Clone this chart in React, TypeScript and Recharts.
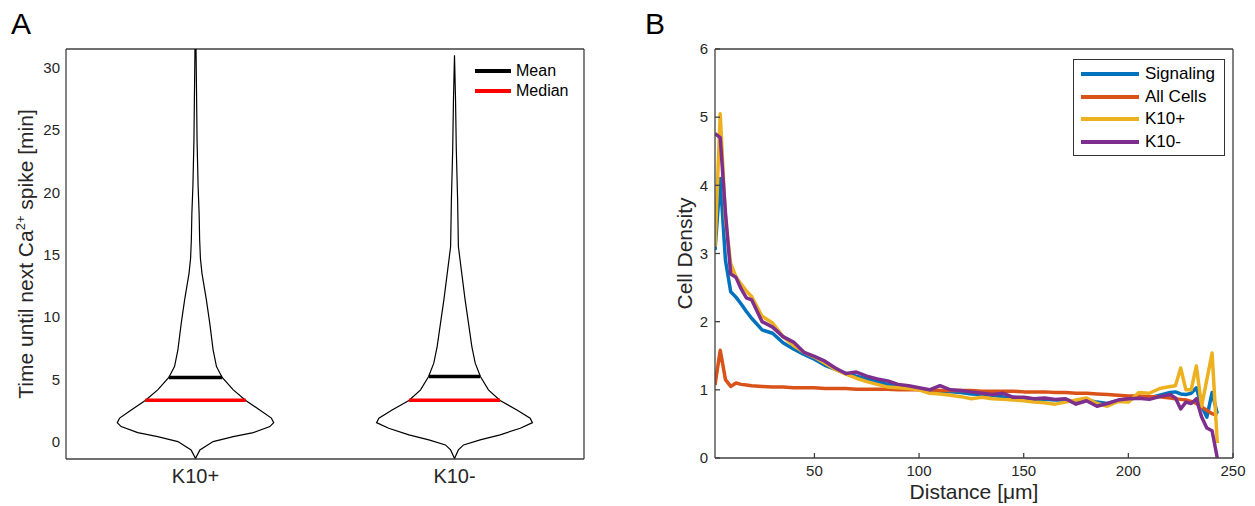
import React from 'react';
import { ScatterChart, Scatter, XAxis, YAxis, LineChart, Line, Legend, Label } from 'recharts';

const FONT = '"Liberation Sans", Arial, Helvetica, sans-serif';
const AXIS = '#404040';
const TXT = '#262626';

// ---------- Panel A: violin data ----------
const groups = ['K10+', 'K10-'];
const groupPositions = [1, 2];
const timeTicks = [0, 5, 10, 15, 20, 25, 30];

const k10PosTimes = [-1.35, -0.67, 0.0, 0.4, 0.72, 1.2, 1.52, 1.88, 2.54, 3.29, 4.15, 5.14, 6.02, 7.36, 9.5, 11.37, 13.5, 14.7, 16.2, 18.3, 20.5, 24.2, 28.0, 31.5];
const k10PosHalfWidth = [0, 0.017, 0.068, 0.146, 0.223, 0.287, 0.302, 0.293, 0.248, 0.194, 0.146, 0.103, 0.081, 0.068, 0.055, 0.042, 0.025, 0.019, 0.016, 0.014, 0.01, 0.006, 0.004, 0.002];

const k10NegTimes = [-1.35, -0.67, -0.27, 0.13, 0.54, 1.07, 1.52, 1.88, 2.54, 3.29, 4.15, 5.22, 6.29, 7.62, 9.5, 11.37, 13.5, 15.65, 19.4, 23.4, 27.4, 31.0];
const k10NegHalfWidth = [0, 0.015, 0.035, 0.099, 0.176, 0.254, 0.301, 0.292, 0.241, 0.176, 0.131, 0.1, 0.08, 0.067, 0.054, 0.041, 0.028, 0.015, 0.012, 0.007, 0.004, 0];

const meanValues = [5.14, 5.22];
const medianValues = [3.32, 3.32];
const meanHalfWidth = [0.103, 0.099];
const medianHalfWidth = [0.194, 0.176];

const legendALabels = ['Mean', 'Median'];
const legendAColors = ['#000000', '#ff0000'];

// ---------- Panel B: cell density ----------
const distance = [2.5, 5, 7.5, 10, 12.5, 15, 17.5, 20,
  25, 30, 35, 40, 45, 50, 55, 60, 65, 70, 75, 80, 85, 90, 95, 100, 105, 110, 115, 120,
  125, 130, 135, 140, 145, 150, 155, 160, 165, 170, 175, 180, 185, 190, 195, 200, 205, 210, 215, 220,
  222.5, 225, 227.5, 230, 232.5, 235, 237.5, 240, 242.5];
const signaling = [3.05, 4.1, 2.9, 2.44, 2.36, 2.26, 2.15, 2.05,
  1.88, 1.83, 1.69, 1.6, 1.52, 1.45, 1.36, 1.3, 1.24, 1.2,
  1.16, 1.12, 1.08, 1.06, 1.04, 1.01, 0.99, 0.98, 0.97, 0.96,
  0.94, 0.93, 0.92, 0.9, 0.89, 0.88, 0.86, 0.86, 0.85, 0.85,
  0.83, 0.85, 0.82, 0.8, 0.84, 0.87, 0.88, 0.88, 0.92, 0.96,
  0.97, 0.94, 0.93, 0.95, 1.03, 0.76, 0.6, 0.96, 0.65];
const allCells = [1.07, 1.58, 1.15, 1.05, 1.1, 1.08, 1.07, 1.06,
  1.05, 1.04, 1.04, 1.03, 1.03, 1.03, 1.02, 1.02, 1.02, 1.01,
  1.01, 1.01, 1.01, 1.0, 1.0, 1.0, 1.0, 0.99, 0.99, 0.99,
  0.99, 0.98, 0.98, 0.98, 0.98, 0.97, 0.97, 0.97, 0.96, 0.96,
  0.95, 0.95, 0.94, 0.93, 0.92, 0.91, 0.91, 0.9, 0.9, 0.88,
  0.87, 0.86, 0.85, 0.83, 0.8, 0.75, 0.7, 0.65, 0.62];
const k10Pos = [3.1, 5.05, 3.5, 2.85, 2.66, 2.55, 2.45, 2.37,
  2.08, 1.98, 1.78, 1.65, 1.55, 1.48, 1.39, 1.3, 1.23, 1.17,
  1.12, 1.08, 1.04, 1.03, 1.02, 1.0, 0.95, 0.94, 0.92, 0.9,
  0.87, 0.89, 0.87, 0.86, 0.85, 0.84, 0.82, 0.81, 0.79, 0.82,
  0.85, 0.88, 0.8, 0.76, 0.83, 0.82, 0.96, 0.95, 1.02, 1.05,
  1.06, 1.32, 1.0, 1.0, 1.35, 0.76, 1.15, 1.54, 0.22];
const k10Neg = [4.76, 4.7, 3.6, 2.7, 2.65, 2.48, 2.35, 2.32,
  2.0, 1.92, 1.78, 1.7, 1.55, 1.49, 1.42, 1.32, 1.24, 1.26,
  1.2, 1.16, 1.13, 1.08, 1.06, 1.03, 1.0, 1.06, 1.0, 0.99,
  0.97, 0.95, 0.93, 0.95, 0.89, 0.89, 0.87, 0.88, 0.86, 0.87,
  0.79, 0.84, 0.76, 0.8, 0.85, 0.87, 0.875, 0.86, 0.9, 0.93,
  0.88, 0.72, 0.82, 0.8, 0.87, 0.6, 0.44, 0.4, 0.0];

const seriesKeys = ['signaling', 'allCells', 'k10Pos', 'k10Neg'];
const seriesNames = ['Signaling', 'All Cells', 'K10+', 'K10-'];
const seriesColors = ['#0072BD', '#D95319', '#EDB120', '#7E2F8E'];
const distanceTicks = [50, 100, 150, 200, 250];
const densityTicks = [0, 1, 2, 3, 4, 5, 6];

// ---------- build tables ----------
const outline = (center: number, times: number[], widths: number[]) => {
  const right = times.map((t, i) => ({ x: center + widths[i], y: t }));
  const left = times.map((t, i) => ({ x: center - widths[i], y: t })).reverse();
  return [...right, ...left];
};
const violins = [
  outline(groupPositions[0], k10PosTimes, k10PosHalfWidth),
  outline(groupPositions[1], k10NegTimes, k10NegHalfWidth),
];
const meanSegs = groupPositions.map((c, i) => [
  { x: c - meanHalfWidth[i], y: meanValues[i] },
  { x: c + meanHalfWidth[i], y: meanValues[i] },
]);
const medianSegs = groupPositions.map((c, i) => [
  { x: c - medianHalfWidth[i], y: medianValues[i] },
  { x: c + medianHalfWidth[i], y: medianValues[i] },
]);

const densityTable = distance.map((d, i) => ({
  d,
  signaling: signaling[i],
  allCells: allCells[i],
  k10Pos: k10Pos[i],
  k10Neg: k10Neg[i],
}));

const Empty = () => <g />;

const TimeLabel = (props: any) => {
  const vb = props.viewBox || { x: 26, y: 49, width: 40, height: 410 };
  const bx = 33;
  const cy = vb.y + vb.height / 2;
  return (
    <text transform={`translate(${bx}, ${cy}) rotate(-90)`} textAnchor="middle" fontSize={21} fill={TXT} fontFamily={FONT}>
      <tspan>Time until next Ca</tspan>
      <tspan fontSize={13} dy={-8}>2+</tspan>
      <tspan dy={8}> spike [min]</tspan>
    </text>
  );
};

const DensityLabel = (props: any) => {
  const vb = props.viewBox || { x: 40, y: 49, width: 40, height: 409 };
  const bx = 57;
  const cy = vb.y + vb.height / 2;
  return (
    <text transform={`translate(${bx}, ${cy}) rotate(-90)`} textAnchor="middle" fontSize={21} fill={TXT} fontFamily={FONT}>
      Cell Density
    </text>
  );
};

const DistanceLabel = (props: any) => {
  const vb = props.viewBox || { x: 80, y: 458, width: 518, height: 48 };
  const cx = vb.x + vb.width / 2;
  return (
    <text x={cx} y={499} textAnchor="middle" fontSize={21} fill={TXT} fontFamily={FONT}>
      Distance [μm]
    </text>
  );
};

const LegendA = () => (
  <div style={{ fontFamily: FONT }}>
    {legendALabels.map((l, i) => (
      <div key={l} style={{ display: 'flex', alignItems: 'center', height: 20 }}>
        <span style={{ display: 'inline-block', width: 36, height: 4, background: legendAColors[i], marginRight: 5 }} />
        <span style={{ fontSize: 16, color: '#000' }}>{l}</span>
      </div>
    ))}
  </div>
);

const LegendB = () => (
  <div style={{ fontFamily: FONT, border: '1px solid #333', background: '#fff', padding: '3px 0 3px 7px', boxSizing: 'border-box', width: 152, height: 97 }}>
    {seriesNames.map((n, i) => (
      <div key={n} style={{ display: 'flex', alignItems: 'center', height: 22.5 }}>
        <span style={{ display: 'inline-block', width: 58, height: 4, background: seriesColors[i], marginRight: 6 }} />
        <span style={{ fontSize: 17, color: '#000' }}>{n}</span>
      </div>
    ))}
  </div>
);

export default function App() {
  return (
    <div style={{ position: 'absolute', left: 0, top: 0, width: 1255, height: 506, background: '#fff', fontFamily: FONT }}>
      <div style={{ position: 'absolute', left: 0, top: 0 }}>
        <ScatterChart width={600} height={506} margin={{ top: 48, right: 15, bottom: 0, left: 26 }}>
          <XAxis
            xAxisId="b"
            dataKey="x"
            type="number"
            domain={[0.5, 2.5]}
            allowDataOverflow
            ticks={groupPositions}
            interval={0}
            tickFormatter={(v: number) => groups[groupPositions.indexOf(v)] ?? ''}
            height={47}
            tickLine={false}
            tickSize={8}
            tickMargin={2}
            axisLine={{ stroke: AXIS, strokeWidth: 1.3 }}
            tick={{ fontSize: 20, fill: TXT }}
          />
          <XAxis
            xAxisId="t"
            orientation="top"
            type="number"
            domain={[0.5, 2.5]}
            allowDataOverflow
            height={1}
            tick={false}
            tickLine={false}
            axisLine={{ stroke: AXIS, strokeWidth: 1.3 }}
          />
          <YAxis
            yAxisId="l"
            dataKey="y"
            type="number"
            domain={[-1.4, 31.5]}
            allowDataOverflow
            ticks={timeTicks}
            interval={0}
            width={40}
            tickLine={false}
            tickSize={4}
            tickMargin={2}
            axisLine={{ stroke: AXIS, strokeWidth: 1.3 }}
            tick={{ fontSize: 15, fill: TXT }}
          >
            <Label content={<TimeLabel />} />
          </YAxis>
          <YAxis
            yAxisId="r"
            orientation="right"
            type="number"
            domain={[-1.4, 31.5]}
            allowDataOverflow
            width={1}
            tick={false}
            tickLine={false}
            axisLine={{ stroke: AXIS, strokeWidth: 1.3 }}
          />
          {violins.map((v, i) => (
            <Scatter
              key={`v${i}`}
              xAxisId="b"
              yAxisId="l"
              data={v}
              fill="#000"
              line={{ stroke: '#000', strokeWidth: 1.2 }}
              shape={Empty}
              isAnimationActive={false}
            />
          ))}
          {meanSegs.map((s, i) => (
            <Scatter
              key={`m${i}`}
              xAxisId="b"
              yAxisId="l"
              data={s}
              fill="#000"
              line={{ stroke: '#000', strokeWidth: 3.5 }}
              shape={Empty}
              isAnimationActive={false}
            />
          ))}
          {medianSegs.map((s, i) => (
            <Scatter
              key={`md${i}`}
              xAxisId="b"
              yAxisId="l"
              data={s}
              fill="#ff0000"
              line={{ stroke: '#ff0000', strokeWidth: 3.5 }}
              shape={Empty}
              isAnimationActive={false}
            />
          ))}
          <Legend
            layout="horizontal"
            verticalAlign="middle"
            align="center"
            content={<LegendA />}
            wrapperStyle={{ left: 475, top: 61, width: 110, height: 40 }}
          />
        </ScatterChart>
      </div>

      <div style={{ position: 'absolute', left: 635, top: 0 }}>
        <LineChart width={620} height={506} data={densityTable} margin={{ top: 48, right: 21, bottom: 0, left: 40 }}>
          <XAxis
            dataKey="d"
            type="number"
            domain={[2.5, 250]}
            allowDataOverflow
            ticks={distanceTicks}
            interval={0}
            height={48}
            tickSize={-5}
            tickMargin={12}
            tickLine={{ stroke: AXIS, strokeWidth: 1.3 }}
            axisLine={{ stroke: AXIS, strokeWidth: 1.3 }}
            tick={{ fontSize: 15, fill: TXT }}
          >
            <Label content={<DistanceLabel />} />
          </XAxis>
          <XAxis
            xAxisId="top"
            orientation="top"
            type="number"
            domain={[2.5, 250]}
            allowDataOverflow
            ticks={distanceTicks}
            interval={0}
            height={1}
            tick={false}
            tickSize={-5}
            tickLine={{ stroke: AXIS, strokeWidth: 1.3 }}
            axisLine={{ stroke: AXIS, strokeWidth: 1.3 }}
          />
          <YAxis
            type="number"
            domain={[0, 6]}
            allowDataOverflow
            ticks={densityTicks}
            interval={0}
            width={40}
            tickSize={-5}
            tickMargin={12}
            tickLine={{ stroke: AXIS, strokeWidth: 1.3 }}
            axisLine={{ stroke: AXIS, strokeWidth: 1.3 }}
            tick={{ fontSize: 15, fill: TXT }}
          >
            <Label content={<DensityLabel />} />
          </YAxis>
          <YAxis
            yAxisId="right"
            orientation="right"
            type="number"
            domain={[0, 6]}
            allowDataOverflow
            ticks={densityTicks}
            interval={0}
            width={1}
            tick={false}
            tickSize={-5}
            tickLine={{ stroke: AXIS, strokeWidth: 1.3 }}
            axisLine={{ stroke: AXIS, strokeWidth: 1.3 }}
          />
          {seriesKeys.map((k, i) => (
            <Line
              key={k}
              type="linear"
              dataKey={k}
              name={seriesNames[i]}
              stroke={seriesColors[i]}
              strokeWidth={3.5}
              dot={false}
              activeDot={false}
              strokeLinejoin="round"
              isAnimationActive={false}
            />
          ))}
          <Legend
            layout="horizontal"
            verticalAlign="middle"
            align="center"
            content={<LegendB />}
            wrapperStyle={{ left: 438, top: 59, width: 152, height: 97 }}
          />
        </LineChart>
      </div>

      <svg width={1255} height={506} style={{ position: 'absolute', left: 0, top: 0, pointerEvents: 'none' }}>
        <text x={11} y={34} fontSize={30} fill="#000" fontFamily={FONT}>A</text>
        <text x={645} y={34} fontSize={30} fill="#000" fontFamily={FONT}>B</text>
      </svg>
    </div>
  );
}
